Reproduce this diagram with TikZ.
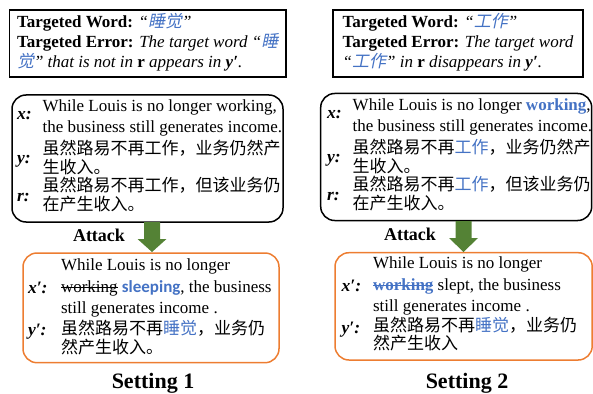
\documentclass[tikz,border=0pt]{standalone}
\usepackage{fontspec}
\setmainfont{Liberation Serif}
\newfontfamily\cjk{Noto Sans CJK SC}
\newfontfamily\cjkit[FakeSlant=0.2]{Noto Sans CJK SC}
\newfontfamily\calibri{Carlito}
\definecolor{wblue}{RGB}{68,114,196}
\definecolor{aorange}{RGB}{237,125,49}
\definecolor{agreen}{RGB}{84,130,53}
\newcommand\strk[1]{\setbox0\hbox{#1}\rlap{\raisebox{0.28em}{\rule{\wd0}{0.9pt}}}\box0\relax}
\begin{document}
\begin{tikzpicture}[x=1pt,y=-1pt,
  every node/.style={inner sep=0pt,outer sep=0pt},
  txt/.style={anchor=base west,font=\fontsize{17}{20}\selectfont},
  ctxt/.style={anchor=base west,font=\fontsize{17}{20}\selectfont\cjk},
  lbl/.style={anchor=base west,font=\fontsize{17.5}{20}\selectfont\bfseries\itshape},
  sqbox/.style={draw=black,line width=1.6pt},
  rbox/.style={draw=black,line width=1.5pt,rounded corners=14pt},
  obox/.style={draw=aorange,line width=1.5pt,rounded corners=14pt},
  atk/.style={anchor=base,font=\fontsize{18}{20}\selectfont\bfseries},
  setl/.style={anchor=base,font=\fontsize{22}{24}\selectfont\bfseries},
  garrow/.style={fill=agreen}]
\useasboundingbox (0,0) rectangle (593,393);

% ---------- boxes ----------
\draw[sqbox] (9.3,10) rectangle (286,77);
\draw[sqbox] (332.7,10) rectangle (583,77);
\draw[rbox] (12,95) rectangle (283,222);
\draw[rbox] (320.7,93.5) rectangle (591.7,220.5);
\draw[obox] (23,253) rectangle (279,362.7);
\draw[obox] (335,252.7) rectangle (592.2,360);

% ---------- arrows ----------
\fill[garrow] (144,222) -- (160,222) -- (160,239) -- (166.5,239) -- (152,252) -- (137.5,239) -- (144,239) -- cycle;
\fill[garrow] (455.5,221) -- (471.5,221) -- (471.5,238) -- (478,238) -- (463.5,252) -- (449,238) -- (455.5,238) -- cycle;

% ---------- top-left ----------
\node[txt] (tl1) at (17,28) {\textbf{Targeted Word:} \textit{“{\cjkit\color{wblue}睡觉}”}};
\node[txt] (tl2) at (17,48) {\textbf{Targeted Error:} \textit{The target word “{\cjkit\color{wblue}睡}}};
\node[txt] (tl3) at (17,67.5) {\textit{{\cjkit\color{wblue}觉}” that is not in \textbf{\upshape r} appears in \textbf{y′}.}};

% ---------- top-right ----------
\node[txt] (tr1) at (342.7,28) {\textbf{Targeted Word:} \textit{“{\cjkit\color{wblue}工作}”}};
\node[txt] (tr2) at (342.7,48) {\textbf{Targeted Error:} \textit{The target word}};
\node[txt] (tr3) at (342.7,67.5) {\textit{“{\cjkit\color{wblue}工作}” in \textbf{\upshape r} disappears in \textbf{y′}.}};

% ---------- middle-left ----------
\node[lbl] (lx) at (17,119) {x:};
\node[lbl] (ly) at (17,163) {y:};
\node[lbl] (lr) at (17,201.5) {r:};
\node[txt] (l1) at (42.7,111.5) {While Louis is no longer working,};
\node[txt] (l2) at (42.7,132.5) {the business still generates income.};
\node[ctxt] (l3) at (42.7,154.5) {虽然路易不再工作，业务仍然产};
\node[ctxt] (l4) at (42.7,173) {生收入。};
\node[ctxt] (l5) at (42.7,191.5) {虽然路易不再工作，但该业务仍};
\node[ctxt] (l6) at (42.7,210) {在产生收入。};

% ---------- middle-right ----------
\node[lbl] (rx) at (327,118) {x:};
\node[lbl] (ry) at (327,162) {y:};
\node[lbl] (rr) at (327,200) {r:};
\node[txt] (r1) at (352.7,110.7) {While Louis is no longer \textbf{\color{wblue}working},};
\node[txt] (r2) at (352.7,131.7) {the business still generates income.};
\node[ctxt] (r3) at (352.7,153.5) {虽然路易不再{\color{wblue}工作}，业务仍然产};
\node[ctxt] (r4) at (352.7,172) {生收入。};
\node[ctxt] (r5) at (352.7,190.5) {虽然路易不再{\color{wblue}工作}，但该业务仍};
\node[ctxt] (r6) at (352.7,209.5) {在产生收入。};

% ---------- attack labels ----------
\node[atk] (atkl) at (99,241.5) {Attack};
\node[atk] (atkr) at (410,240.7) {Attack};

% ---------- orange left ----------
\node[lbl] (olx) at (28,293) {x′:};
\node[lbl] (oly) at (28,335) {y′:};
\node[txt] (ol1) at (61,270) {While Louis is no longer};
\node[txt] (ol2) at (61,292.7) {\strk{working} {\calibri\bfseries\color{wblue}sleeping}, the business};
\node[txt] (ol3) at (61,313) {still generates income .};
\node[ctxt] (ol4) at (61,334) {虽然路易不再{\color{wblue}睡觉}，业务仍};
\node[ctxt] (ol5) at (61,353) {然产生收入。};

% ---------- orange right ----------
\node[lbl] (orx) at (341.7,291) {x′:};
\node[lbl] (ory) at (341.7,333) {y′:};
\node[txt] (or1) at (373,268) {While Louis is no longer};
\node[txt] (or2) at (373,290.7) {{\color{wblue}\strk{\textbf{working}}} slept, the business};
\node[txt] (or3) at (373,311.7) {still generates income .};
\node[ctxt] (or4) at (373,331) {虽然路易不再{\color{wblue}睡觉}，业务仍};
\node[ctxt] (or5) at (373,349.7) {然产生收入};

% ---------- settings ----------
\node[setl] (s1) at (153,388) {Setting 1};
\node[setl] (s2) at (467,388) {Setting 2};
\end{tikzpicture}
\end{document}
